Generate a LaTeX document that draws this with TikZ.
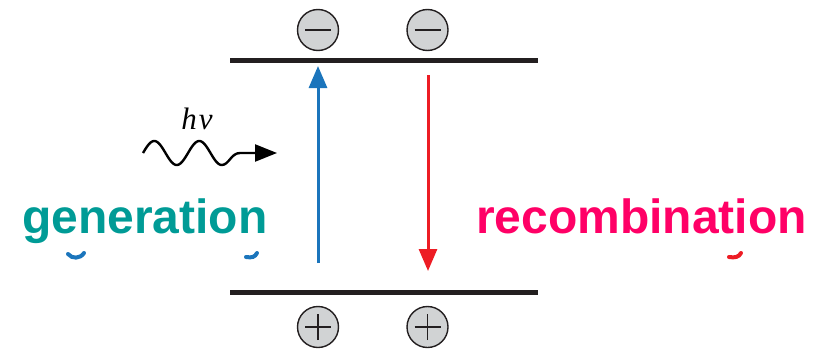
\documentclass[tikz,border=0pt]{standalone}
\usepackage{fontspec}
\setsansfont{Liberation Sans}
\newfontfamily\photonfont{Liberation Serif}
\usetikzlibrary{arrows.meta}
\definecolor{bandblack}{HTML}{231F20}
\definecolor{chargegray}{HTML}{D1D3D4}
\definecolor{genblue}{HTML}{1B75BC}
\definecolor{recred}{HTML}{ED1C24}
\definecolor{genteal}{HTML}{009B96}
\definecolor{recpink}{HTML}{FF0066}
\tikzset{
  band/.style={line width=4.5pt, bandblack},
  charge/.style={circle, draw=bandblack, fill=chargegray, line width=1.4pt,
    minimum size=41pt, inner sep=0pt},
  sign/.style={line width=1.3pt, bandblack},
  transition/.style={line width=3pt, -{Triangle[length=22pt,width=18pt]}},
  label/.style={font=\sffamily\bfseries\fontsize{48}{50}\selectfont,
    inner sep=0pt, anchor=base west},
  tail/.style={line width=4pt, line cap=round},
}
\begin{document}
\begin{tikzpicture}[x=1pt,y=-1pt]
\useasboundingbox (0,0) rectangle (825,351);

% conduction and valence band edges
\coordinate (cbL) at (230,60.5);
\coordinate (cbR) at (538,60.5);
\coordinate (vbL) at (230,292.5);
\coordinate (vbR) at (538,292.5);
\draw[band] (cbL) -- (cbR);
\draw[band] (vbL) -- (vbR);

% electrons
\node[charge] (e1) at (318,30) {};
\node[charge] (e2) at (427.5,30) {};
% holes
\node[charge] (h1) at (318,327) {};
\node[charge] (h2) at (427.5,327) {};
\foreach \n in {e1,e2,h1,h2}
  \draw[sign] ([xshift=-13pt]\n.center) -- ([xshift=13pt]\n.center);
\foreach \n in {h1,h2}
  \draw[sign] ([yshift=-13pt]\n.center) -- ([yshift=13pt]\n.center);

% generation (up) and recombination (down)
\coordinate (gTail) at (318,263);
\coordinate (gTip) at (318,66);
\coordinate (rTail) at (428,75);
\coordinate (rTip) at (428,271);
\draw[transition, genblue] (gTail) -- (gTip);
\draw[transition, recred] (rTail) -- (rTip);

% incoming photon: a wave that settles into a straight arrow
\coordinate (wStart) at (143,153);
\coordinate (wLast) at (221.75,165);
\coordinate (wFlat) at (240,153);
\coordinate (wTip) at (277,153);
\draw[line width=2.4pt, black, line join=round,
      -{Triangle[length=22pt,width=17pt]}]
  plot[shift={(wStart)}, domain=0:78.75, samples=80, smooth] (\x,{-12*sin(8*\x)})
  (wLast) .. controls (229,165) and (231,153) .. (wFlat) -- (wTip);
\node[font=\photonfont\itshape\fontsize{31}{33}\selectfont, inner sep=0pt,
  anchor=base] (hnu) at (197,129) {h\kern2ptν};

% labels
\node[label, genteal] (gen) at (22,233) {generation};
\node[label, recpink] (rec) at (476,233) {recombination};

% descender tails peeking out below the labels
\draw[tail, genblue] (68,254) .. controls (72,259) and (80,259) .. (84,253);
\draw[tail, genblue] (246,257) .. controls (252,258) and (255,257) .. (257,253);
\draw[tail, recred] (729,257) .. controls (735,258) and (739,257) .. (741,253);
\end{tikzpicture}
\end{document}
